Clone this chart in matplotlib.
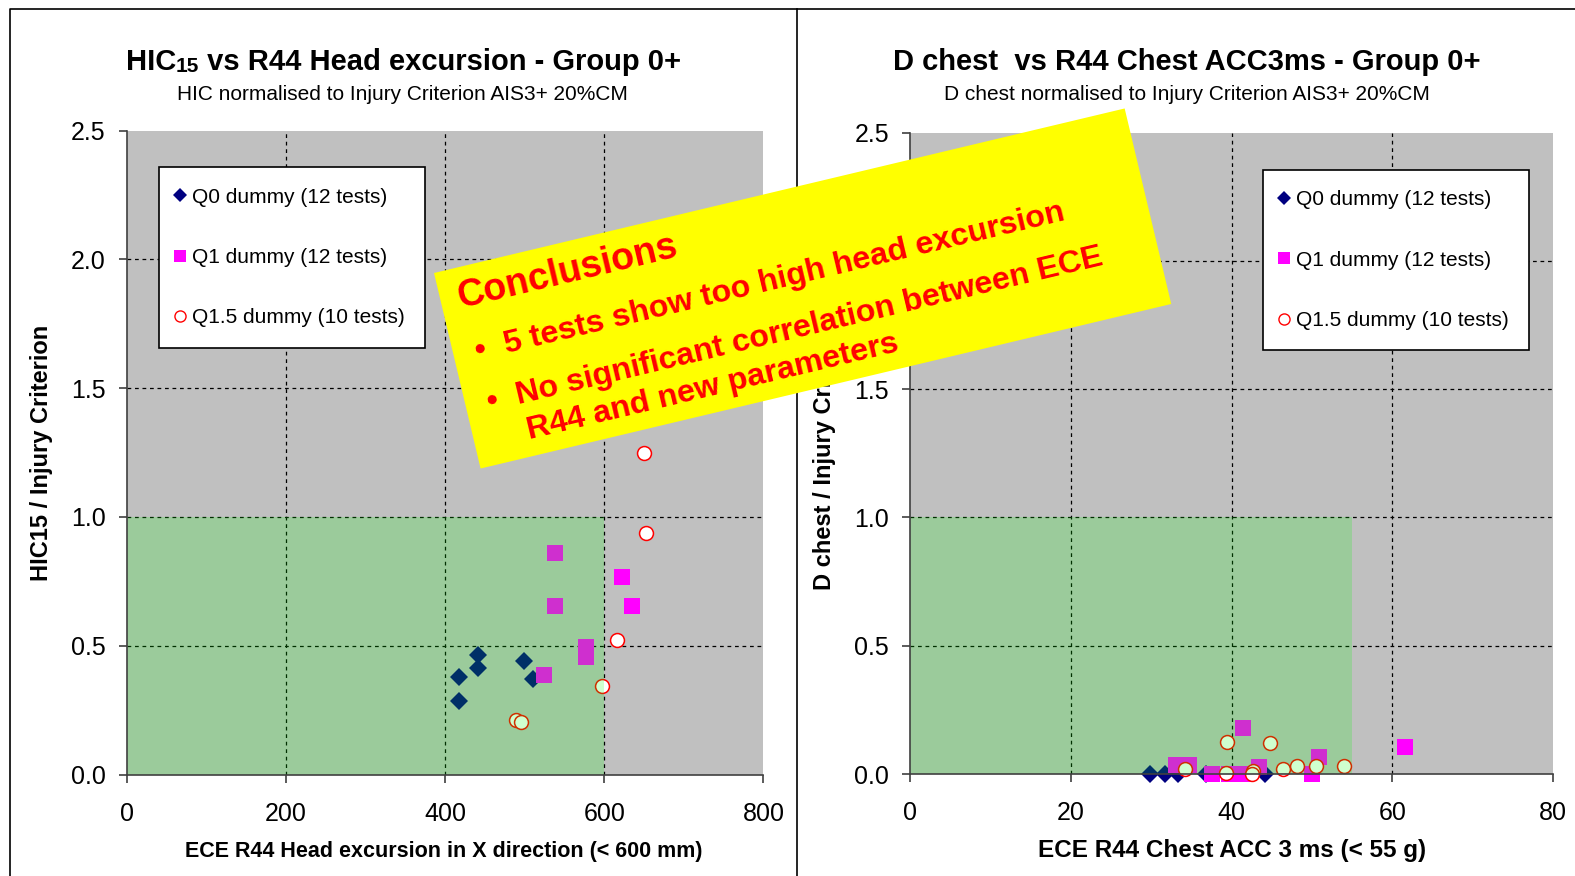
"""Two R44 scatter charts with a rotated 'Conclusions' note
"""
import matplotlib
matplotlib.use('Agg')
import matplotlib.pyplot as plt
import numpy as np
from matplotlib.lines import Line2D
from matplotlib.patches import Polygon, Rectangle

plt.rcParams['font.family'] = ['Liberation Sans', 'DejaVu Sans']

W, H = 1575, 876

# left chart: head excursion (mm) vs HIC15 / injury criterion
q0_head_x = [441, 441, 418, 418, 499, 511]
q0_head_y = [0.464, 0.413, 0.379, 0.285, 0.441, 0.371]
q1_head_x = [538, 538, 622, 635, 577, 577, 524]
q1_head_y = [0.860, 0.654, 0.767, 0.654, 0.495, 0.456, 0.386]
q15_head_x = [650, 653, 616, 597, 489, 496]
q15_head_y = [1.248, 0.937, 0.522, 0.344, 0.212, 0.204]

# right chart: chest acc 3 ms (g) vs D chest / injury criterion
q0_chest_x = [29.8, 31.7, 33.4, 36.8, 44.2]
q0_chest_y = [0, 0, 0, 0, 0]
q1_chest_x = [41.4, 33.1, 34.7, 50.9, 43.4, 61.6, 37.6, 39.7, 41.7, 50.0]
q1_chest_y = [0.18, 0.035, 0.035, 0.067, 0.028, 0.106, 0, 0, 0, 0]
q15_chest_x = [39.4, 44.8, 34.2, 39.3, 42.7, 42.5, 46.4, 48.1, 50.5, 54.0]
q15_chest_y = [0.125, 0.12, 0.02, 0.005, 0.01, 0.0, 0.02, 0.03, 0.03, 0.03]

legend_labels = ['Q0 dummy (12 tests)', 'Q1 dummy (12 tests)',
                 'Q1.5 dummy (10 tests)']

conclusion_lines = ['5 tests show too high head excursion',
                    'No significant correlation between ECE',
                    'R44 and new parameters']

NAVY = '#000080'
MAGENTA = '#FF00FF'
RED = '#FF0000'
AXCOL = '#404040'


def setup_axes(ax, xmax, xstep, green_x, xfmt):
    ax.set_facecolor('#C0C0C0')
    ax.set_xlim(0, xmax)
    ax.set_ylim(0, 2.5)
    xt = np.arange(0, xmax + 1, xstep)
    yt = np.arange(0, 2.51, 0.5)
    ax.set_xticks(xt)
    ax.set_yticks(yt)
    ax.xaxis.set_major_formatter(xfmt)
    ax.yaxis.set_major_formatter('{x:.1f}')
    for s in ['top', 'right']:
        ax.spines[s].set_visible(False)
    for s in ['left', 'bottom']:
        ax.spines[s].set_color(AXCOL)
        ax.spines[s].set_linewidth(1.2)
        ax.spines[s].set_zorder(4)
    ax.tick_params(axis='both', direction='out', length=6, width=1.2,
                   color=AXCOL, labelsize=18)
    ax.tick_params(axis='x', pad=13.5)
    ax.tick_params(axis='y', pad=9)
    # dashed grid, inner ticks only
    for t in xt[1:-1]:
        ax.axvline(t, color='black', lw=0.9, ls=(0, (3, 3)), zorder=1)
    for t in yt[1:-1]:
        ax.axhline(t, color='black', lw=0.9, ls=(0, (3, 3)), zorder=1)
    # translucent green "acceptable" zone drawn over the markers
    ax.add_patch(Rectangle((0, 0), green_x, 1.0, facecolor='#00FF00',
                           edgecolor='none', alpha=0.19, zorder=3))


def plot_series(ax, q0, q1, q15):
    ax.plot(q0[0], q0[1], ls='none', marker='D', ms=9, mew=0,
            color=NAVY, clip_on=False, zorder=2)
    ax.plot(q1[0], q1[1], ls='none', marker='s', ms=11.5, mew=0,
            color=MAGENTA, clip_on=False, zorder=2)
    ax.plot(q15[0], q15[1], ls='none', marker='o', ms=10, mew=1.1,
            mfc='white', mec=RED, clip_on=False, zorder=2)


def add_legend(ax, anchor):
    handles = [
        Line2D([], [], ls='none', marker='D', ms=7, mew=0, color=NAVY),
        Line2D([], [], ls='none', marker='s', ms=9, mew=0, color=MAGENTA),
        Line2D([], [], ls='none', marker='o', ms=8, mew=1, mfc='white',
               mec=RED),
    ]
    leg = ax.legend(handles, legend_labels, loc='upper left',
                    bbox_to_anchor=anchor, borderaxespad=0, fontsize=15,
                    borderpad=0.98, handlelength=0.1, handletextpad=0.5,
                    labelspacing=1.98, numpoints=1, fancybox=False,
                    framealpha=1, edgecolor='black')
    leg.get_frame().set_linewidth(1.2)
    leg.set_zorder(6)


fig = plt.figure(figsize=(W / 100, H / 100), dpi=100)
fig.patch.set_facecolor('white')

ax1 = fig.add_axes([126.6 / W, 1 - 774.5 / H, 636.8 / W, 643.9 / H])
ax2 = fig.add_axes([910 / W, 1 - 774 / H, 643 / W, 641.4 / H])

setup_axes(ax1, 800, 200, 600, '{x:.0f}')
setup_axes(ax2, 80, 20, 55, '{x:.0f}')

plot_series(ax1, (q0_head_x, q0_head_y), (q1_head_x, q1_head_y),
            (q15_head_x, q15_head_y))
plot_series(ax2, (q0_chest_x, q0_chest_y), (q1_chest_x, q1_chest_y),
            (q15_chest_x, q15_chest_y))

add_legend(ax1, ((159 - 126.6) / 636.8, (774.5 - 167.3) / 643.9))
add_legend(ax2, ((1262.7 - 910) / 643, (774 - 170) / 641.4))

# titles (HIC with a smaller "15")
t1 = fig.text(125.6 / W, 1 - 70.5 / H, 'HIC', fontsize=21,
              fontweight='bold', ha='left', va='baseline')
t2 = ax1.annotate('15', xy=(1, 0), xycoords=t1, ha='left', va='bottom',
                  fontsize=15, fontweight='bold', annotation_clip=False)
ax1.annotate(' vs R44 Head excursion - Group 0+', xy=(1, 0), xycoords=t2,
             ha='left', va='bottom', fontsize=21, fontweight='bold',
             annotation_clip=False)
fig.text(402.5 / W, 1 - 100 / H,
         'HIC normalised to Injury Criterion AIS3+ 20%CM',
         fontsize=15, ha='center', va='baseline')

fig.text(1187 / W, 1 - 70.5 / H, 'D chest  vs R44 Chest ACC3ms - Group 0+',
         fontsize=21, fontweight='bold', ha='center', va='baseline')
fig.text(1187 / W, 1 - 100 / H,
         'D chest normalised to Injury Criterion AIS3+ 20%CM',
         fontsize=15, ha='center', va='baseline')

# axis labels
fig.text(444 / W, 1 - 851.8 / H,
         'ECE R44 Head excursion in X direction (< 600 mm)',
         fontsize=15.5, fontweight='bold', ha='center', va='center')
fig.text(1232 / W, 1 - 850.5 / H, 'ECE R44 Chest ACC 3 ms (< 55 g)',
         fontsize=17.5, fontweight='bold', ha='center', va='center')
fig.text(42 / W, 1 - 453 / H, 'HIC15 / Injury Criterion', fontsize=17,
         fontweight='bold', rotation=90, ha='center', va='center')
fig.text(824 / W, 1 - 453 / H, 'D chest / Injury Criterion', fontsize=17,
         fontweight='bold', rotation=90, ha='center', va='center')

# panel borders
fig.add_artist(Line2D([10 / W, 10 / W, 1.01], [-0.01, 1 - 9 / H, 1 - 9 / H],
                      transform=fig.transFigure, color='black', lw=1.2))
fig.add_artist(Line2D([797 / W, 797 / W], [-0.01, 1 - 9 / H],
                      transform=fig.transFigure, color='black', lw=1.2))

# rotated yellow conclusions box
ANG = 13.4
TLX, TLY = 434, 273
BOX_W, BOX_H = 710, 201
ca, sa = np.cos(np.radians(ANG)), np.sin(np.radians(ANG))


def box_pt(a, b):
    X = TLX + a * ca + b * sa
    Y = TLY - a * sa + b * ca
    return X / W, 1 - Y / H


corners = [box_pt(0, 0), box_pt(BOX_W, 0), box_pt(BOX_W, BOX_H),
           box_pt(0, BOX_H)]
fig.add_artist(Polygon(corners, closed=True, transform=fig.transFigure,
                       facecolor='#FFFF00', edgecolor='none', zorder=10))

txt_kw = dict(transform=fig.transFigure, color=RED, fontweight='bold',
              rotation=ANG, rotation_mode='anchor', ha='left',
              va='baseline', zorder=11)
fig.text(*box_pt(18, 40), 'Conclusions', fontsize=27, **txt_kw)
fig.text(*box_pt(22, 95), '\u2022', fontsize=23, **txt_kw)
fig.text(*box_pt(52, 95), conclusion_lines[0], fontsize=23.2, **txt_kw)
fig.text(*box_pt(22, 147), '\u2022', fontsize=23, **txt_kw)
fig.text(*box_pt(52, 147), conclusion_lines[1], fontsize=23.2, **txt_kw)
fig.text(*box_pt(54, 184), conclusion_lines[2], fontsize=23.2, **txt_kw)

fig.savefig('out.png', dpi=100)
